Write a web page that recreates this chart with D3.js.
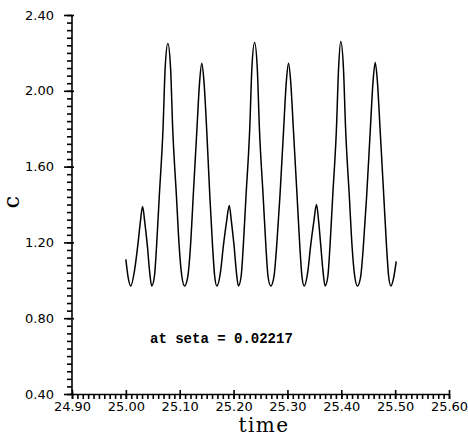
<!DOCTYPE html>
<html>
<head>
<meta charset="utf-8">
<script src="https://cdn.jsdelivr.net/npm/d3@7"></script>
<style>
  body { margin: 0; background: #fff; }
  svg { display: block; }
  .axis path, .axis line { stroke: #000; stroke-width: 1.6; }
  .axis text { font-family: "DejaVu Sans", sans-serif; font-size: 13px; fill: #000; }
  .curve { fill: none; stroke: #000; stroke-width: 1.5; }
</style>
</head>
<body>
<div id="chart"></div>
<script>
// tick values
const xMajor = [24.9, 25.0, 25.1, 25.2, 25.3, 25.4, 25.5, 25.6];
const yMajor = [0.4, 0.8, 1.2, 1.6, 2.0, 2.4];
const xMinor = d3.range(0, 71).map(i => 24.9 + i * 0.01);
const yMinor = d3.range(0, 51).map(i => 0.4 + i * 0.04);

// c(t)
const time = [
  25.000, 25.004, 25.009,
  25.016, 25.022, 25.027, 25.031, 25.035, 25.040, 25.044, 25.048,
  25.053, 25.057, 25.062, 25.069, 25.073, 25.078, 25.083, 25.087, 25.094, 25.099, 25.104, 25.109,
  25.115, 25.120, 25.125, 25.132, 25.137, 25.141, 25.145, 25.150, 25.156, 25.161, 25.165, 25.169,
  25.176, 25.181, 25.187, 25.192, 25.196, 25.201, 25.205, 25.209,
  25.214, 25.218, 25.223, 25.230, 25.234, 25.239, 25.244, 25.248, 25.255, 25.260, 25.264, 25.269,
  25.275, 25.280, 25.286, 25.293, 25.298, 25.302, 25.306, 25.311, 25.318, 25.323, 25.327, 25.331,
  25.338, 25.343, 25.349, 25.354, 25.358, 25.362, 25.366, 25.370,
  25.375, 25.379, 25.384, 25.391, 25.395, 25.399, 25.404, 25.408, 25.415, 25.420, 25.425, 25.430,
  25.436, 25.441, 25.447, 25.454, 25.459, 25.463, 25.467, 25.472, 25.479, 25.484, 25.488, 25.492,
  25.497, 25.502
];
const conc = [
  1.11, 1.02, 0.97,
  1.05, 1.18, 1.31, 1.39, 1.31, 1.18, 1.05, 0.97,
  1.02, 1.18, 1.44, 1.80, 2.12, 2.25, 2.12, 1.80, 1.44, 1.18, 1.02, 0.97,
  1.02, 1.18, 1.44, 1.80, 2.05, 2.145, 2.05, 1.80, 1.44, 1.18, 1.02, 0.97,
  1.05, 1.18, 1.31, 1.395, 1.31, 1.18, 1.05, 0.97,
  1.02, 1.18, 1.44, 1.80, 2.12, 2.255, 2.12, 1.80, 1.44, 1.18, 1.02, 0.97,
  1.02, 1.18, 1.44, 1.80, 2.05, 2.145, 2.05, 1.80, 1.44, 1.18, 1.02, 0.97,
  1.05, 1.18, 1.31, 1.40, 1.31, 1.18, 1.05, 0.97,
  1.02, 1.18, 1.44, 1.80, 2.12, 2.26, 2.12, 1.80, 1.44, 1.18, 1.02, 0.97,
  1.02, 1.18, 1.44, 1.80, 2.05, 2.15, 2.05, 1.80, 1.44, 1.18, 1.02, 0.97,
  1.01, 1.10
];

const width = 468;
const height = 440;

const svg = d3.select('#chart').append('svg')
  .attr('width', width)
  .attr('height', height);

// scales
const x = d3.scaleLinear().domain([24.9, 25.6]).range([72, 449]);
const y = d3.scaleLinear().domain([0.4, 2.4]).range([394, 15]);

// minor ticks first
svg.append('g')
  .attr('class', 'axis')
  .attr('transform', `translate(0, ${y(0.4)})`)
  .call(d3.axisBottom(x).tickValues(xMinor).tickSize(5).tickSizeOuter(0).tickFormat(''))
  .select('.domain').remove();

svg.append('g')
  .attr('class', 'axis')
  .attr('transform', `translate(${x(24.9)}, 0)`)
  .call(d3.axisLeft(y).tickValues(yMinor).tickSize(5).tickSizeOuter(0).tickFormat(''))
  .select('.domain').remove();

// major ticks + labels
const gx = svg.append('g')
  .attr('class', 'axis')
  .attr('transform', `translate(0, ${y(0.4)})`)
  .call(d3.axisBottom(x).tickValues(xMajor).tickSize(5).tickSizeOuter(0).tickPadding(3).tickFormat(d3.format('.2f')));
gx.selectAll('.tick line').attr('y1', -4);

const gy = svg.append('g')
  .attr('class', 'axis')
  .attr('transform', `translate(${x(24.9)}, 0)`)
  .call(d3.axisLeft(y).tickValues(yMajor).tickSize(8).tickSizeOuter(0).tickPadding(10).tickFormat(d3.format('.2f')));
gy.selectAll('.tick line').attr('x1', 2);
gy.select('.domain').attr('d', `M0,${y(2.4)}V${y(0.4)}`);

// curve
const points = time.map((t, i) => [t, conc[i]]);
const line = d3.line()
  .x(d => x(d[0]))
  .y(d => y(d[1]))
  .curve(d3.curveMonotoneX);

svg.append('path')
  .datum(points)
  .attr('class', 'curve')
  .attr('d', line);

// labels
svg.append('text')
  .attr('x', 264)
  .attr('y', 432)
  .attr('text-anchor', 'middle')
  .style('font-family', '"DejaVu Serif", serif')
  .style('font-size', '20px')
  .style('letter-spacing', '1.5px')
  .text('time');

svg.append('text')
  .attr('transform', 'translate(19, 202) rotate(-90)')
  .attr('text-anchor', 'middle')
  .style('font-family', '"DejaVu Serif", serif')
  .style('font-size', '22px')
  .text('c');

svg.append('text')
  .attr('x', 150)
  .attr('y', 343)
  .style('font-family', '"Liberation Mono", monospace')
  .style('font-weight', 'bold')
  .style('font-size', '14px')
  .text('at seta = 0.02217');
</script>
</body>
</html>
